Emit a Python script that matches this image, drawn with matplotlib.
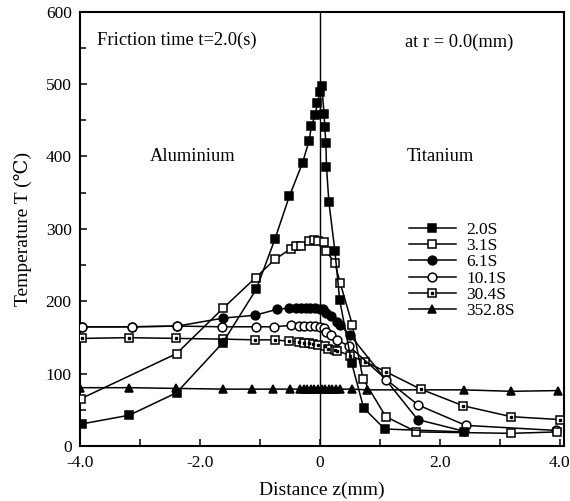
import matplotlib.pyplot as plt

plt.rcParams['font.family'] = ['Liberation Serif', 'DejaVu Serif', 'DejaVu Sans']

# 2.0 s (filled squares)
x_20 = [-3.97, -3.18, -2.39, -1.62, -1.06, -0.75, -0.51, -0.29, -0.18, -0.14, -0.08, -0.04, 0.0, 0.03,
        0.07, 0.08, 0.10, 0.11, 0.15, 0.25, 0.33, 0.53, 0.73, 1.08, 2.40]
y_20 = [31, 43, 74, 143, 217, 286, 345, 391, 422, 442, 457, 474, 489, 497,
        459, 441, 419, 386, 337, 270, 202, 115, 53, 24, 20]
# 3.1 s (open squares)
x_31 = [-3.98, -2.39, -1.61, -1.07, -0.75, -0.48, -0.40, -0.32, -0.18, -0.10, -0.03, 0.07, 0.10,
        0.25, 0.34, 0.54, 0.72, 1.10, 1.61, 3.19, 3.96]
y_31 = [66, 128, 191, 233, 258, 273, 276, 277, 284, 285, 284, 282, 270,
        253, 225, 168, 93, 41, 20, 18, 20]
# 6.1 s (filled circles)
x_61 = [-3.97, -3.14, -2.38, -1.61, -1.08, -0.72, -0.51, -0.40, -0.32, -0.24, -0.16, -0.08, 0.0,
        0.06, 0.11, 0.19, 0.28, 0.33, 0.50, 1.63, 2.40]
y_61 = [165, 165, 166, 177, 181, 189, 191, 191, 191, 191, 191, 191, 190,
        189, 184, 180, 172, 168, 154, 37, 21]
# 10.1 s (open circles)
x_101 = [-3.97, -3.14, -2.38, -1.63, -1.07, -0.76, -0.48, -0.35, -0.26, -0.17, -0.08, 0.0, 0.07,
         0.11, 0.19, 0.29, 0.49, 1.11, 1.64, 2.43, 3.94]
y_101 = [165, 165, 166, 165, 165, 165, 167, 166, 166, 166, 166, 165, 163,
         158, 153, 147, 138, 92, 57, 29, 22]
# 30.4 s (dotted squares)
x_304 = [-3.97, -3.19, -2.40, -1.61, -1.08, -0.75, -0.51, -0.35, -0.27, -0.19, -0.11, -0.03, 0.08,
         0.14, 0.25, 0.29, 0.51, 0.75, 1.10, 1.68, 2.39, 3.19, 4.0]
y_304 = [149, 150, 149, 148, 147, 147, 145, 144, 143, 142, 141, 140, 138,
         135, 133, 132, 125, 117, 103, 79, 56, 41, 37]
# 352.8 s (triangles)
x_3528 = [-4.0, -3.18, -2.40, -1.61, -1.14, -0.78, -0.50, -0.33, -0.27, -0.21, -0.15, -0.09, -0.03,
          0.03, 0.09, 0.15, 0.21, 0.27, 0.33, 0.53, 0.78, 2.40, 3.19, 3.97]
y_3528 = [81, 81, 80, 79, 79, 79, 79, 79, 79, 79, 79, 79, 79,
          79, 79, 79, 79, 79, 79, 79, 78, 78, 76, 77]

x_ticks = [-4, -3, -2, -1, 0, 1, 2, 3, 4]
x_ticklabels = ['-4.0', '', '-2.0', '', '0', '', '2.0', '', '4.0']
y_ticks = [0, 100, 200, 300, 400, 500, 600]

fig = plt.figure(figsize=(5.7, 5.01), dpi=100)
ax = fig.add_axes([0.1404, 0.109, 0.849, 0.868])

lw = 1.1
ms = 6.3
kw = dict(color='black', linewidth=lw, markeredgecolor='black', markeredgewidth=1.1, markersize=ms)

ax.axvline(0, color='black', linewidth=1.0, zorder=1)

l_3528, = ax.plot(x_3528, y_3528, marker='^', markerfacecolor='black', zorder=2, **kw)
l_304, = ax.plot(x_304, y_304, marker='s', markerfacecolor='white', zorder=3, **kw)
d_304, = ax.plot(x_304, y_304, linestyle='none', marker='s', markersize=1.6,
                 color='black', zorder=3.1)
l_61, = ax.plot(x_61, y_61, marker='o', markerfacecolor='black', zorder=4, **kw)
l_101, = ax.plot(x_101, y_101, marker='o', markerfacecolor='white', zorder=5, **kw)
l_31, = ax.plot(x_31, y_31, marker='s', markerfacecolor='white', zorder=6, **kw)
l_20, = ax.plot(x_20, y_20, marker='s', markerfacecolor='black', zorder=7, **kw)

ax.set_xlim(-4, 4.07)
ax.set_ylim(0, 600)
ax.set_xticks(x_ticks)
ax.set_xticklabels(x_ticklabels)
ax.set_yticks(y_ticks)
ax.set_yticks(range(50, 600, 100), minor=True)
ax.tick_params(direction='in', length=5, width=1.1, labelsize=12.5, pad=6)
ax.tick_params(which='minor', direction='in', length=4, width=1.1)
for s in ax.spines.values():
    s.set_linewidth(1.5)

ax.set_xlabel('Distance z(mm)', fontsize=14, labelpad=8)
ax.set_ylabel('Temperature T (℃)', fontsize=14, labelpad=10)

ax.text(-3.72, 560, 'Friction time t=2.0(s)', fontsize=13.3, va='center')
ax.text(1.42, 558, 'at r = 0.0(mm)', fontsize=13.3, va='center')
ax.text(-2.13, 400, 'Aluminium', fontsize=13.3, va='center', ha='center')
ax.text(1.45, 400, 'Titanium', fontsize=13.3, va='center')

handles = [l_20, l_31, l_61, l_101, (l_304, d_304), l_3528]
labels = ['2.0S', '3.1S', '6.1S', '10.1S', '30.4S', '352.8S']
ax.legend(handles, labels, loc='upper left', bbox_to_anchor=(409 / 570, 1 - 222 / 501),
          bbox_transform=fig.transFigure, frameon=False, fontsize=12.5,
          handlelength=2.7, handletextpad=0.6, labelspacing=0.0, borderpad=0,
          borderaxespad=0)

plt.savefig('out.png', dpi=100)
